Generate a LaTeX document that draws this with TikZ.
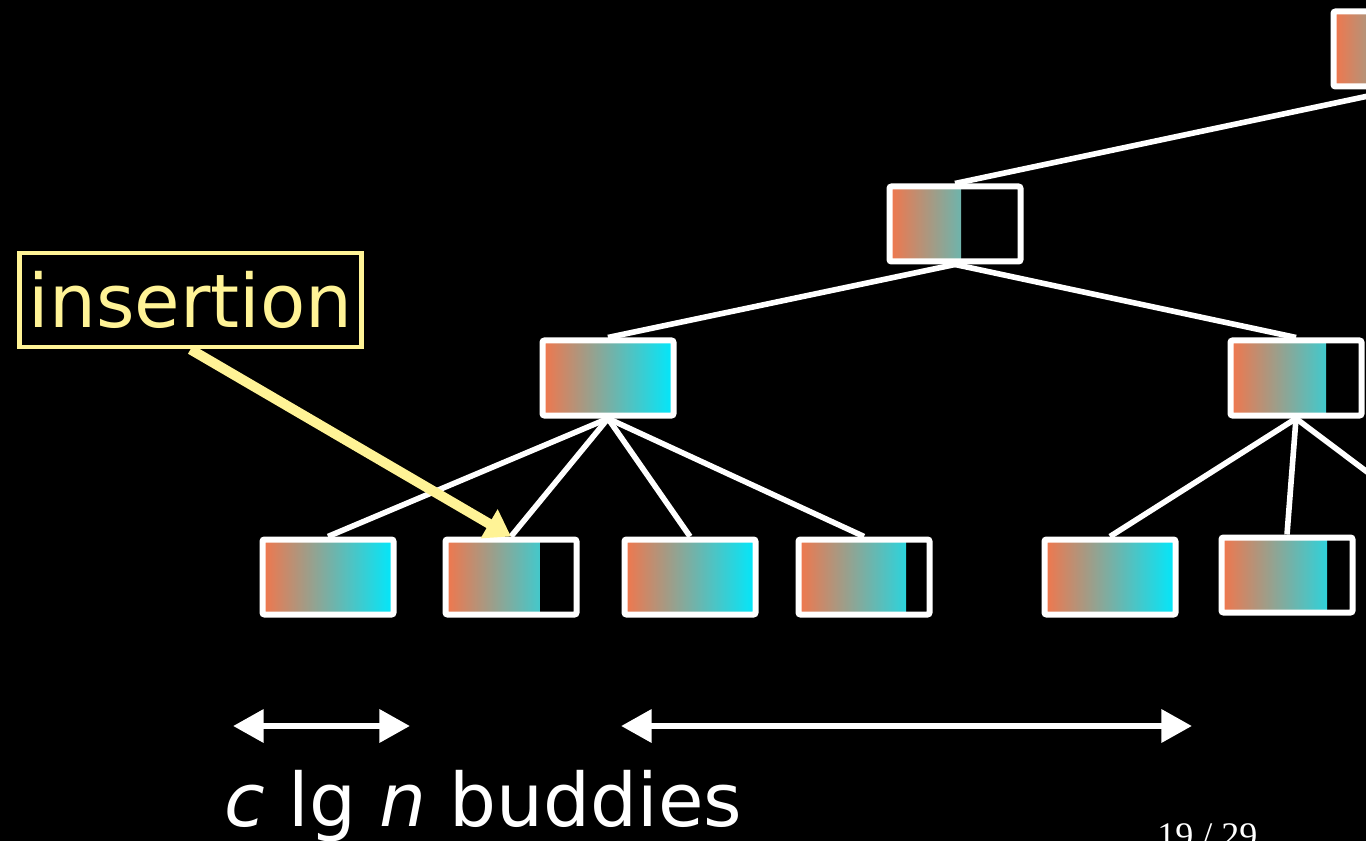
\documentclass[tikz,border=0pt]{standalone}
\usepackage{fontspec}
\setmainfont{DejaVu Sans}
\newfontfamily\pagefont{Liberation Serif}
\usetikzlibrary{arrows.meta,backgrounds}

\definecolor{buddyorange}{RGB}{242,118,76}
\definecolor{buddycyan}{RGB}{0,232,252}
\definecolor{noteyellow}{RGB}{255,243,150}

\tikzset{
  % one block of buddies, #1 = filled width in px
  buddy/.style={draw=white, line width=4.5pt, rounded corners=1.5pt, inner sep=0pt,
    minimum width=98.25pt, minimum height=56.25pt,
    path picture={\shade[left color=buddyorange, right color=buddycyan]
      (path picture bounding box.south west) rectangle ([xshift=#1*0.75pt]path picture bounding box.north west);}},
  buddy/.default=131,
  link/.style={white, line width=4.2pt},
  insertarrow/.style={noteyellow, line width=7.5pt, -{Triangle[length=19pt,width=24pt]}},
  spanarrow/.style={white, line width=5pt, {Triangle[length=23pt,width=24pt]}-{Triangle[length=23pt,width=24pt]}},
  bigtext/.style={font=\fontsize{55.5}{62}\selectfont, inner sep=0pt}
}

\begin{document}
\begin{tikzpicture}[x=0.75pt, y=-0.75pt]
    \useasboundingbox (0,0) rectangle (1366,841);
    \clip (0,0) rectangle (1366,841);
    % Draw the tree
    \node[buddy] (t) at (1399,49) {};
    \node[buddy=71.5] (a) at (955,224) {};
    \node[buddy] (b) at (608,378) {};
    \node[buddy=95.5] (c) at (1296,378) {};
    \node[buddy] (l1) at (328,577) {};
    \node[buddy=94.5] (l2) at (511,577) {};
    \node[buddy] (l3) at (690,577) {};
    \node[buddy=107.5] (l4) at (864,577) {};
    \node[buddy] (l5) at (1110,577) {};
    \node[buddy=105.5] (l6) at (1287,575) {};
    \coordinate (l7) at (1455,538);
    \begin{scope}[on background layer]
        \fill[black] (0,0) rectangle (1366,841);
        \draw[link] (t.south) -- (a.north);
        \draw[link] (a.south) -- (b.north);
        \draw[link] (a.south) -- (c.north);
        \foreach \leaf in {l1,l2,l3,l4}
            \draw[link] (b.south) -- (\leaf.north);
        \draw[link] (c.south) -- (l5.north);
        \draw[link] (c.south) -- (l6.north);
        \draw[link] (c.south) -- (l7);
    \end{scope}
    % Add the insertion note
    \node[bigtext, draw=noteyellow, line width=3.6pt, text=noteyellow,
        minimum width=257pt, minimum height=70.5pt] (ins) at (190.5,300) {insertion};
    \draw[insertarrow] (ins.south) -- (l2.north);
    % Buddy ranges
    \coordinate (s1a) at (233,726);
    \coordinate (s1b) at (410,726);
    \coordinate (s2a) at (621,726);
    \coordinate (s2b) at (1192,726);
    \draw[spanarrow] (s1a) -- (s1b);
    \draw[spanarrow] (s2a) -- (s2b);
    \node[bigtext, text=white, anchor=base west] (lbl) at (224,826) {\textit{c} lg \textit{n} buddies};
    \node[font=\pagefont\fontsize{27}{30}\selectfont, text=white, inner sep=0pt, anchor=base west] (pg) at (1157,847) {19 / 29};
\end{tikzpicture}
\end{document}
